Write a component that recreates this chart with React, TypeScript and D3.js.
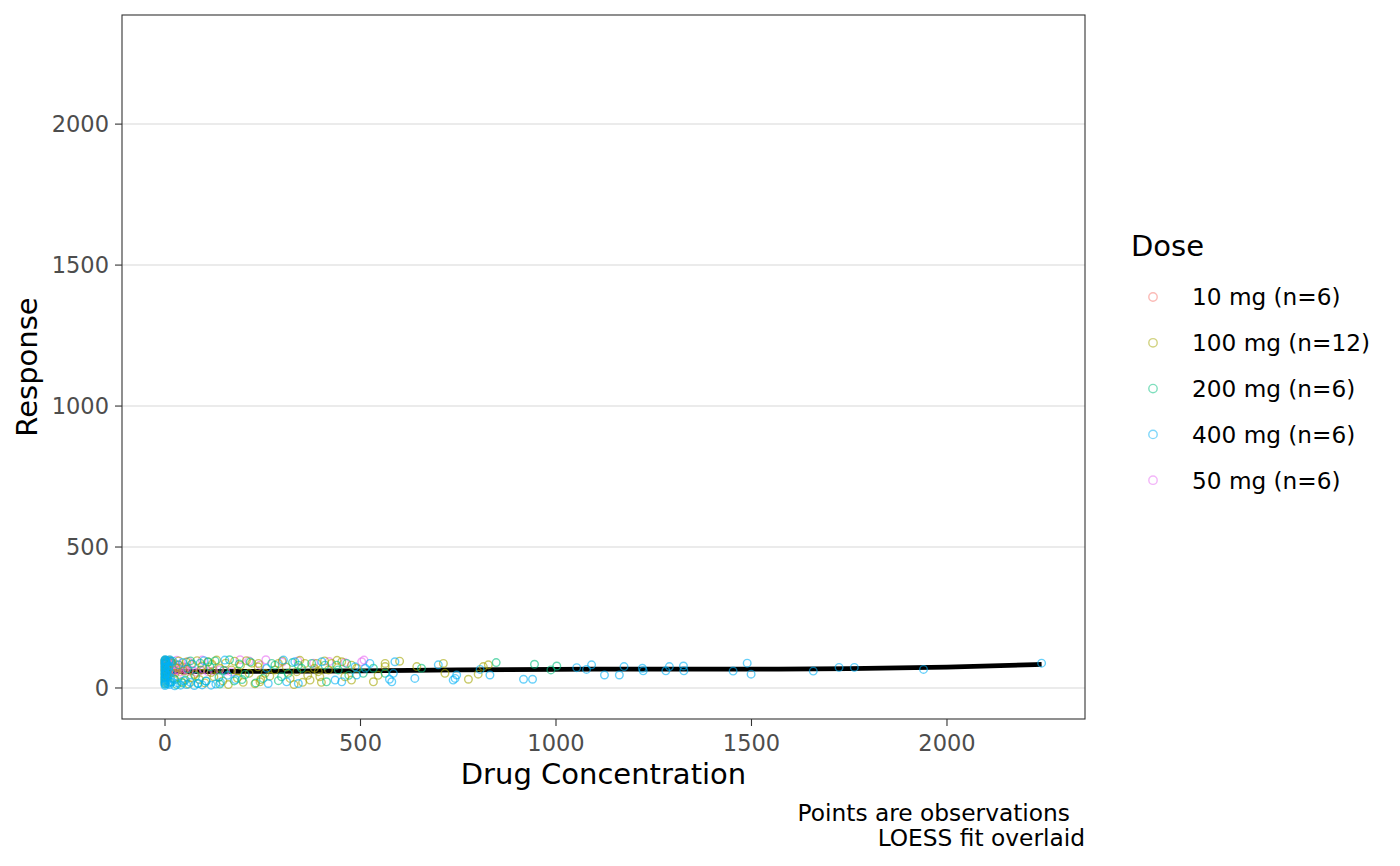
import React from "react";
import * as d3 from "d3";

type Pt = [number, number];

const doseLabels = ["10 mg (n=6)", "100 mg (n=12)", "200 mg (n=6)", "400 mg (n=6)", "50 mg (n=6)"];
const doseColors = ["#F8766D", "#A3A500", "#00BF7D", "#00B0F6", "#E76BF3"];

const yTicks = [0, 500, 1000, 1500, 2000];
const xTicks = [0, 500, 1000, 1500, 2000];

const dose10: Pt[] = [
  [0, 98], [2, 92], [5, 88], [8, 95], [12, 84], [15, 90], [20, 78], [25, 86], [30, 72], [35, 80],
  [40, 68], [45, 75], [0, 64], [3, 70], [6, 58], [10, 62], [18, 55], [28, 60], [50, 66], [55, 74],
];

const dose50: Pt[] = [
  [5, 96], [10, 60], [18, 62], [25, 58], [32, 64], [40, 57], [48, 61], [55, 66], [62, 59], [70, 63],
  [80, 56], [90, 62], [100, 65], [110, 58], [125, 61], [140, 64], [155, 60], [170, 57], [192, 100],
  [215, 96], [243, 81], [258, 100], [300, 92], [340, 96], [380, 88], [420, 94], [460, 90], [503, 93],
  [509, 99], [0, 90], [0, 80], [2, 72], [8, 84], [15, 92], [30, 98], [60, 94], [95, 99],
];

const dose100: Pt[] = [
  [0, 95], [0, 88], [0, 76], [0, 65], [0, 52], [0, 40], [0, 30], [0, 20], [1, 84], [2, 58], [3, 45], [4, 70],
  [12, 98], [18, 88], [22, 34], [28, 72], [35, 96], [42, 22], [48, 60], [55, 92], [60, 14], [68, 85],
  [75, 48], [82, 97], [88, 30], [95, 78], [102, 18], [110, 93], [118, 55], [125, 40], [132, 99], [140, 70],
  [148, 25], [155, 88], [162, 12], [170, 64], [178, 95], [185, 35], [193, 80], [200, 20], [208, 97],
  [215, 52], [222, 88], [230, 15], [238, 75], [245, 30], [239, 87], [256, 52], [243, 22], [281, 64],
  [290, 87], [320, 34], [337, 58], [358, 87], [371, 28], [388, 87], [392, 58], [396, 40], [418, 64],
  [426, 87], [452, 93], [477, 81], [477, 28], [300, 96], [330, 12], [345, 98], [365, 45], [400, 20],
  [440, 98], [460, 40], [490, 70], [533, 22], [563, 87], [563, 76], [644, 76], [712, 87], [716, 52],
  [776, 31], [801, 49], [814, 76], [827, 82], [545, 45], [600, 95], [268, 42], [310, 74], [352, 20],
  [382, 70], [408, 96], [66, 36], [120, 84], [186, 60], [26, 52], [92, 64],
];

const dose200: Pt[] = [
  [0, 99], [0, 85], [0, 72], [0, 60], [0, 48], [0, 35], [0, 25], [0, 15], [2, 92], [3, 55], [5, 40], [6, 78],
  [15, 95], [25, 30], [35, 82], [45, 18], [58, 68], [65, 96], [78, 42], [90, 88], [105, 25], [115, 75],
  [128, 96], [138, 38], [150, 62], [165, 100], [177, 25], [190, 85], [197, 30], [205, 48], [218, 92],
  [232, 18], [251, 34], [273, 87], [281, 81], [298, 40], [315, 52], [341, 81], [349, 70], [375, 87],
  [409, 81], [413, 22], [439, 81], [443, 64], [465, 87], [470, 45], [507, 52], [533, 70], [563, 52],
  [656, 70], [847, 90], [945, 84], [987, 64], [1002, 78], [12, 20], [30, 12], [52, 28], [84, 16],
  [110, 92], [140, 14], [290, 26], [326, 90],
];

const dose400: Pt[] = [
  [0, 100], [0, 96], [0, 91], [0, 86], [0, 81], [0, 75], [0, 70], [0, 64], [0, 58], [0, 52], [0, 47],
  [0, 41], [0, 36], [0, 30], [0, 24], [0, 19], [0, 13], [0, 9], [3, 98], [4, 88], [5, 62], [6, 28],
  [7, 15], [8, 45], [10, 94], [11, 78], [13, 55], [14, 35], [9, 70], [12, 100], [15, 20], [2, 50],
  [12, 12], [18, 22], [25, 8], [32, 18], [40, 10], [48, 25], [55, 12], [65, 20],
  [75, 9], [85, 16], [95, 11], [105, 24], [118, 10], [130, 14], [142, 20], [20, 95], [45, 90], [70, 85],
  [100, 97], [153, 99], [160, 45], [180, 30], [264, 16], [303, 99], [311, 22], [332, 93], [341, 16],
  [401, 93], [435, 28], [452, 22], [486, 75], [490, 46], [260, 70], [512, 70], [524, 87], [574, 31],
  [580, 22], [584, 52], [588, 93], [639, 34], [699, 82], [737, 28], [746, 46], [742, 34], [806, 66],
  [831, 46], [917, 31], [940, 31], [1053, 72], [1078, 66], [1091, 82], [1124, 46], [1162, 46],
  [1174, 76], [1221, 70], [1223, 61], [1281, 61], [1290, 76], [1326, 78], [1327, 61], [1453, 60],
  [1489, 88], [1499, 49], [1658, 60], [1724, 73], [1763, 73], [1940, 66], [2242, 88],
];

const groups: Pt[][] = [dose10, dose100, dose200, dose400, dose50];
const drawOrder = [0, 4, 1, 2, 3];

const loessX = [0, 250, 500, 750, 1000, 1250, 1500, 1750, 2000, 2242];
const loessY = [58, 59, 61, 64, 66, 67, 67, 69, 74, 84];

const W = 1400;
const H = 866;
const panel = { left: 122, right: 1085, top: 15, bottom: 719 };

export default function App() {
  const x = d3.scaleLinear().domain([-110, 2353]).range([panel.left, panel.right]);
  const y = d3.scaleLinear().domain([-110, 2387]).range([panel.bottom, panel.top]);
  const line = d3
    .line<number>()
    .x((d) => x(loessX[d]))
    .y((d) => y(loessY[d]))
    .curve(d3.curveMonotoneX);
  const font = "'DejaVu Sans', sans-serif";
  return (
    <svg
      width={W}
      height={H}
      style={{ position: "absolute", left: 0, top: 0, background: "#fff" }}
      fontFamily={font}
    >
      <rect x={0} y={0} width={W} height={H} fill="#fff" />
      {yTicks.map((t) => (
        <line key={"g" + t} x1={panel.left} x2={panel.right} y1={y(t)} y2={y(t)} stroke="#EBEBEB" strokeWidth={2} />
      ))}
      <path d={line(loessX.map((_, i) => i)) || ""} fill="none" stroke="#000" strokeWidth={4.8} />
      {drawOrder.map((gi) => (
        <g key={gi}>
          {groups[gi].map((p, i) => (
            <circle
              key={i}
              cx={x(p[0])}
              cy={y(p[1])}
              r={3.8}
              fill="none"
              stroke={doseColors[gi]}
              strokeOpacity={0.6}
              strokeWidth={1.4}
            />
          ))}
        </g>
      ))}
      <rect
        x={panel.left}
        y={panel.top}
        width={panel.right - panel.left}
        height={panel.bottom - panel.top}
        fill="none"
        stroke="#333333"
        strokeWidth={1.1}
      />
      {yTicks.map((t) => (
        <g key={"y" + t}>
          <line x1={panel.left - 7} x2={panel.left} y1={y(t)} y2={y(t)} stroke="#333333" strokeWidth={1.1} />
          <text x={panel.left - 13} y={y(t)} dy="0.36em" textAnchor="end" fontSize={22.5} fill="#4D4D4D">
            {t}
          </text>
        </g>
      ))}
      {xTicks.map((t) => (
        <g key={"x" + t}>
          <line x1={x(t)} x2={x(t)} y1={panel.bottom} y2={panel.bottom + 7} stroke="#333333" strokeWidth={1.1} />
          <text x={x(t)} y={751} textAnchor="middle" fontSize={22.5} fill="#4D4D4D">
            {t}
          </text>
        </g>
      ))}
      <text x={(panel.left + panel.right) / 2} y={784} textAnchor="middle" fontSize={29} fill="#000">
        Drug Concentration
      </text>
      <text
        transform={`translate(37, ${(panel.top + panel.bottom) / 2}) rotate(-90)`}
        textAnchor="middle"
        fontSize={29}
        fill="#000"
      >
        Response
      </text>
      <text x={1131} y={256} fontSize={29} fill="#000">
        Dose
      </text>
      {doseLabels.map((lab, i) => (
        <g key={lab}>
          <circle
            cx={1153}
            cy={297 + i * 45.8}
            r={4.2}
            fill="none"
            stroke={doseColors[i]}
            strokeOpacity={0.5}
            strokeWidth={1.4}
          />
          <text x={1192} y={297 + i * 45.8} dy="0.36em" fontSize={23.2} fill="#000">
            {lab}
          </text>
        </g>
      ))}
      <text x={1070} y={821} textAnchor="end" fontSize={23.3} fill="#000">
        Points are observations
      </text>
      <text x={1085} y={846} textAnchor="end" fontSize={23.3} fill="#000">
        LOESS fit overlaid
      </text>
    </svg>
  );
}
